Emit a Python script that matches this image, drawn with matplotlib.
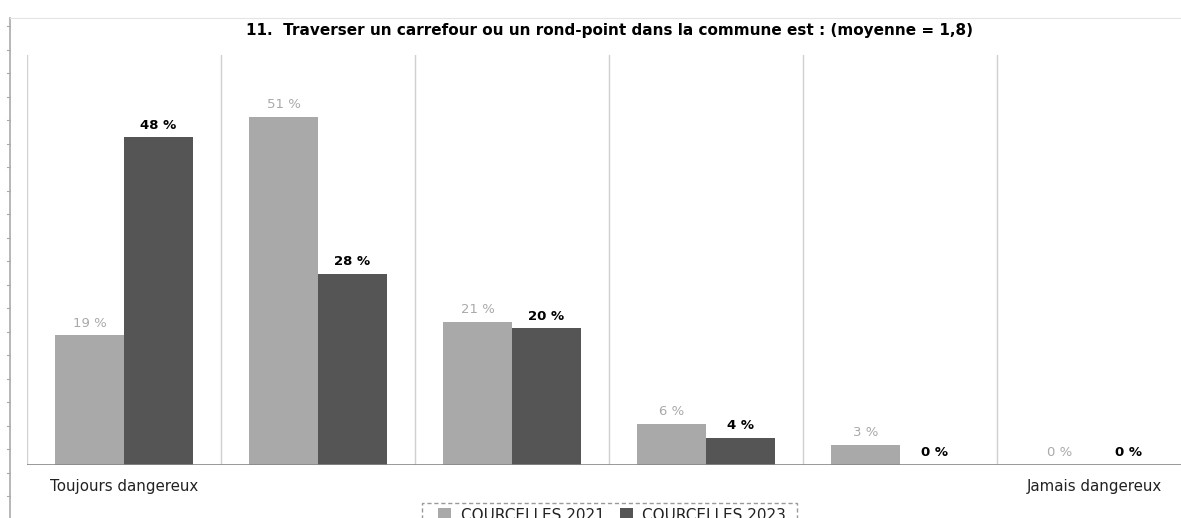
import numpy as np
import matplotlib.pyplot as plt
from matplotlib.lines import Line2D
from matplotlib.patches import Rectangle

categories = ['Toujours dangereux', '', '', '', '', 'Jamais dangereux']
values_2021 = [19, 51, 21, 6, 3, 0]
values_2023 = [48, 28, 20, 4, 0, 0]
series_names = ['COURCELLES 2021', 'COURCELLES 2023']
title = '11.  Traverser un carrefour ou un rond-point dans la commune est : (moyenne = 1,8)'

light = '#a9a9a9'
dark = '#555555'

W, H = 1181, 518
fig = plt.figure(figsize=(W / 100, H / 100), dpi=100)

group_px = 194
left_px, base_px, top_px = 27, 465, 55
ax = fig.add_axes([left_px / W, (H - base_px) / H, (W - left_px) / W, (base_px - top_px) / H])
ax.set_xlim(0, (W - left_px) / group_px)
px_per_pct = 6.83
ax.set_ylim(0, (base_px - top_px) / px_per_pct)
ax.axis('off')

x = np.arange(len(categories)) + 0.5
bw = 69 / group_px
ax.bar(x - bw / 2, values_2021, bw, color=light, label=series_names[0])
ax.bar(x + bw / 2, values_2023, bw, color=dark, label=series_names[1])

for i in range(len(categories) + 1):
    ax.axvline(i, color='#d0d0d0', lw=1)
ax.axhline(0, color='#888888', lw=1.2)

for xi, v in zip(x - bw / 2, values_2021):
    ax.annotate(f'{v} %', (xi, v), xytext=(0, 4), textcoords='offset points',
                ha='center', va='bottom', color=light, fontsize=9.5)
for xi, v in zip(x + bw / 2, values_2023):
    ax.annotate(f'{v} %', (xi, v), xytext=(0, 4), textcoords='offset points',
                ha='center', va='bottom', color='black', fontsize=9.5, fontweight='bold')

for xi, lab in zip(x, categories):
    if lab:
        ax.annotate(lab, (xi, 0), xytext=(0, -10), textcoords='offset points',
                    ha='center', va='top', fontsize=10.8, color='#222222')

fig.text(610 / W, 1 - 31 / H, title, ha='center', va='center',
         fontsize=11, fontweight='bold')

# outer frame lines of the screenshot
fig.add_artist(Line2D([10 / W, 10 / W], [0, 1 - 18 / H], color='#aaaaaa', lw=1.2))
fig.add_artist(Line2D([10 / W, 1], [1 - 18 / H, 1 - 18 / H], color='#e4e4e4', lw=0.8))
for ty in np.arange(26, 518, 23.5):
    fig.add_artist(Line2D([7 / W, 10 / W], [1 - ty / H, 1 - ty / H], color='#aaaaaa', lw=0.8))

# legend
fig.add_artist(Rectangle((422 / W, -0.02), 375 / W, (H - 503) / H + 0.02, fill=False,
                         ls=(0, (3, 2)), ec='#999999', lw=1, transform=fig.transFigure))
leg = fig.legend(loc='center', bbox_to_anchor=(612 / W, 1 - 515 / H), ncol=2, frameon=False,
                 fontsize=11, handlelength=0.9, handleheight=0.9, handletextpad=0.6,
                 columnspacing=1.0, borderpad=0)
for t in leg.get_texts():
    t.set_color('#222222')

fig.savefig('out.png', dpi=100)
